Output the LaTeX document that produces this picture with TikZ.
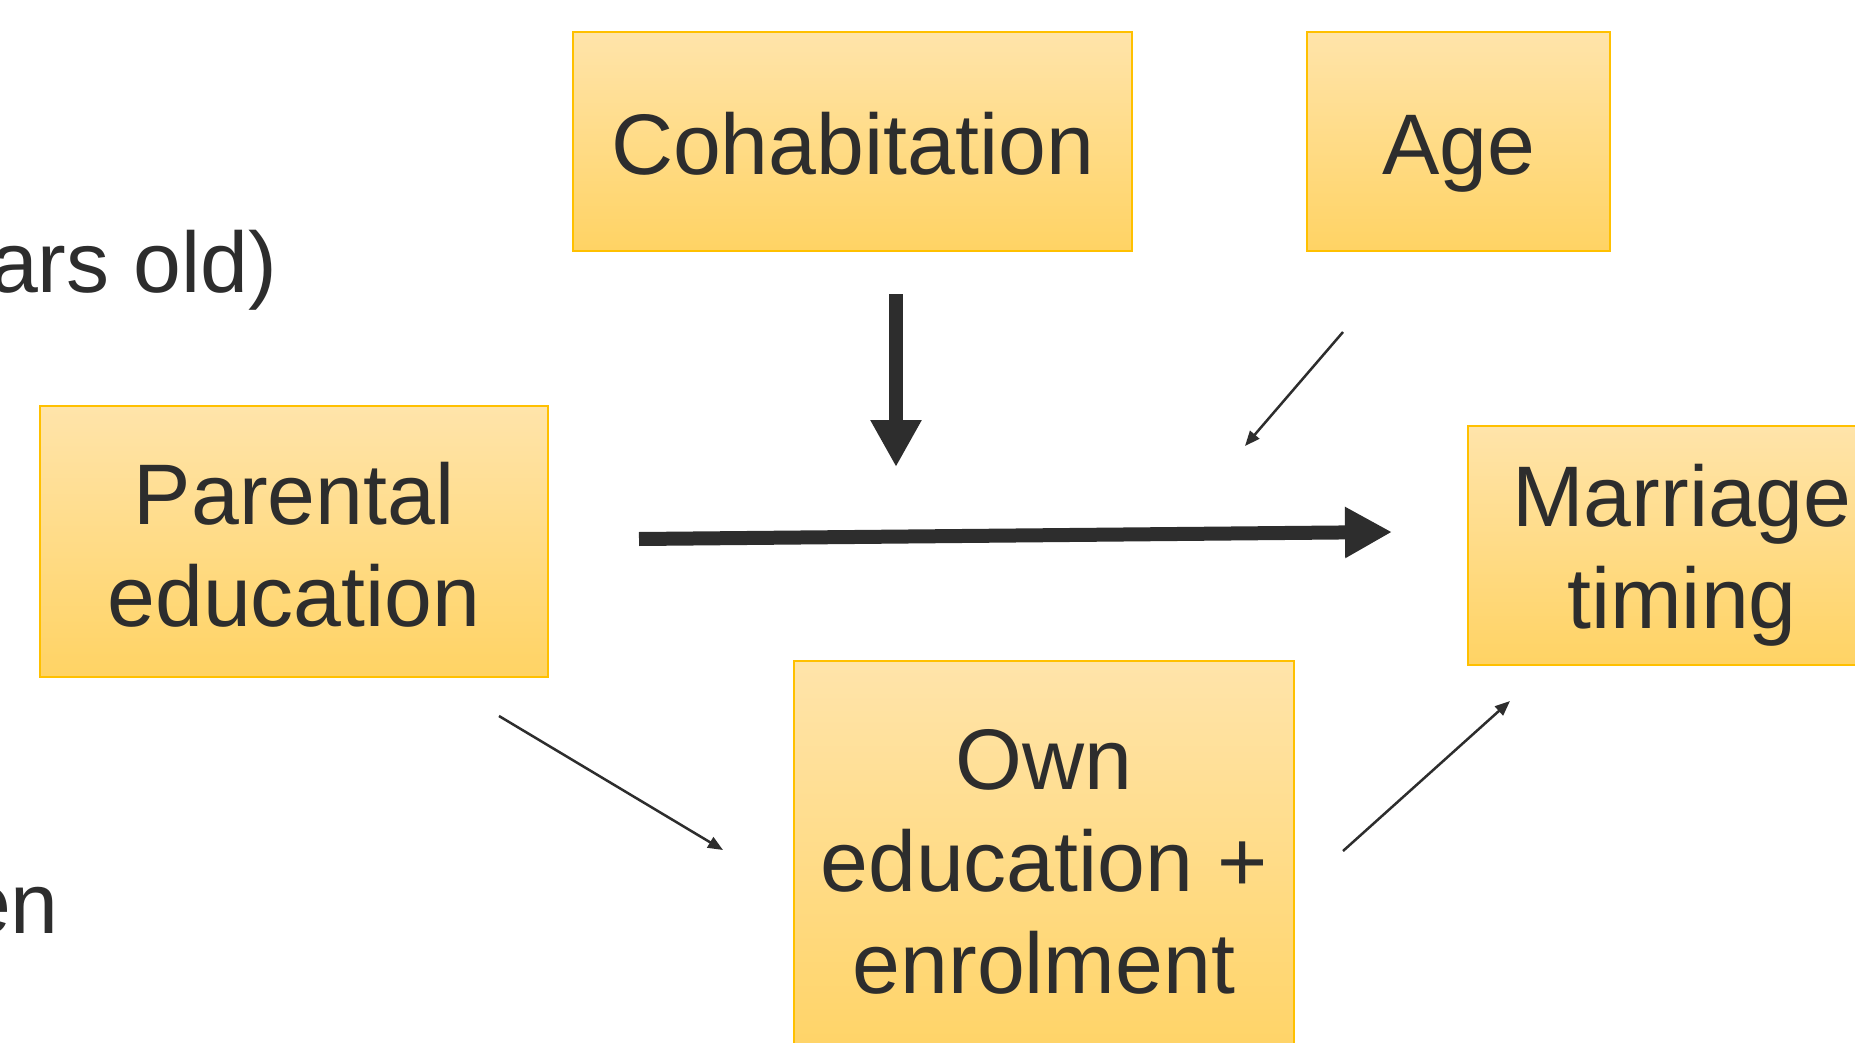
\documentclass[tikz,border=0pt]{standalone}
\usepackage{fontspec}
\setmainfont{Liberation Sans}
\usetikzlibrary{arrows.meta}
\definecolor{ink}{HTML}{2D2D2D}
\definecolor{boxtop}{HTML}{FFE4AA}
\definecolor{boxbot}{HTML}{FFD364}
\definecolor{boxline}{HTML}{FFC000}
\begin{document}
\begin{tikzpicture}[x=1pt,y=-1pt,
  every node/.style={text=ink, font=\fontsize{86}{102}\selectfont, inner sep=0pt},
  box/.style={draw=boxline, line width=2pt, top color=boxtop, bottom color=boxbot,
    align=center, inner sep=0pt},
  bigarrow/.style={draw=ink, line width=14pt, -{Triangle[length=47pt,width=48pt]}},
  smallarrow/.style={draw=ink, line width=2.5pt, -{Triangle[length=15pt,width=12pt]}}]
\useasboundingbox (0,0) rectangle (1855,1043);
\fill[white] (0,0) rectangle (1855,1043);
\clip (0,0) rectangle (1855,1043);

% boxes
\node[box, minimum width=559pt, minimum height=219pt, text height=80pt, text depth=14pt] (cohab) at (852.5,141.5) {Cohabitation};
\node[box, minimum width=303pt, minimum height=219pt, text height=80pt, text depth=14pt] (age) at (1458.5,141.5) {Age};
\node[box, minimum width=508pt, minimum height=271pt, text height=182pt, text depth=13pt] (parent) at (294,541.5) {Parental\\education};
\node[box, minimum width=428pt, minimum height=239pt, text height=182pt, text depth=17pt] (marr) at (1682,545.5) {Marriage\\timing};
\node[box, minimum width=500pt, minimum height=409pt, text height=284pt, text depth=29pt] (own) at (1044,865.5) {Own\\education +\\enrolment};

% cut-off texts at the left edge
\node[anchor=base east] (t1) at (277,292) {ars old)};
\node[anchor=base east] (t2) at (59,933) {en};

% arrow end points
\coordinate (cs) at (896,294);
\coordinate (ce) at (896,467);
\coordinate (ms) at (639,539);
\coordinate (me) at (1392,532);
\coordinate (as) at (1343,332);
\coordinate (ae) at (1245,446);
\coordinate (ps) at (499,716);
\coordinate (pe) at (723,850);
\coordinate (os) at (1343,851);
\coordinate (oe) at (1510,701);

\draw[bigarrow] (cs) -- (ce);
\draw[bigarrow] (ms) -- (me);
\draw[smallarrow] (as) -- (ae);
\draw[smallarrow] (ps) -- (pe);
\draw[smallarrow] (os) -- (oe);
\end{tikzpicture}
\end{document}
